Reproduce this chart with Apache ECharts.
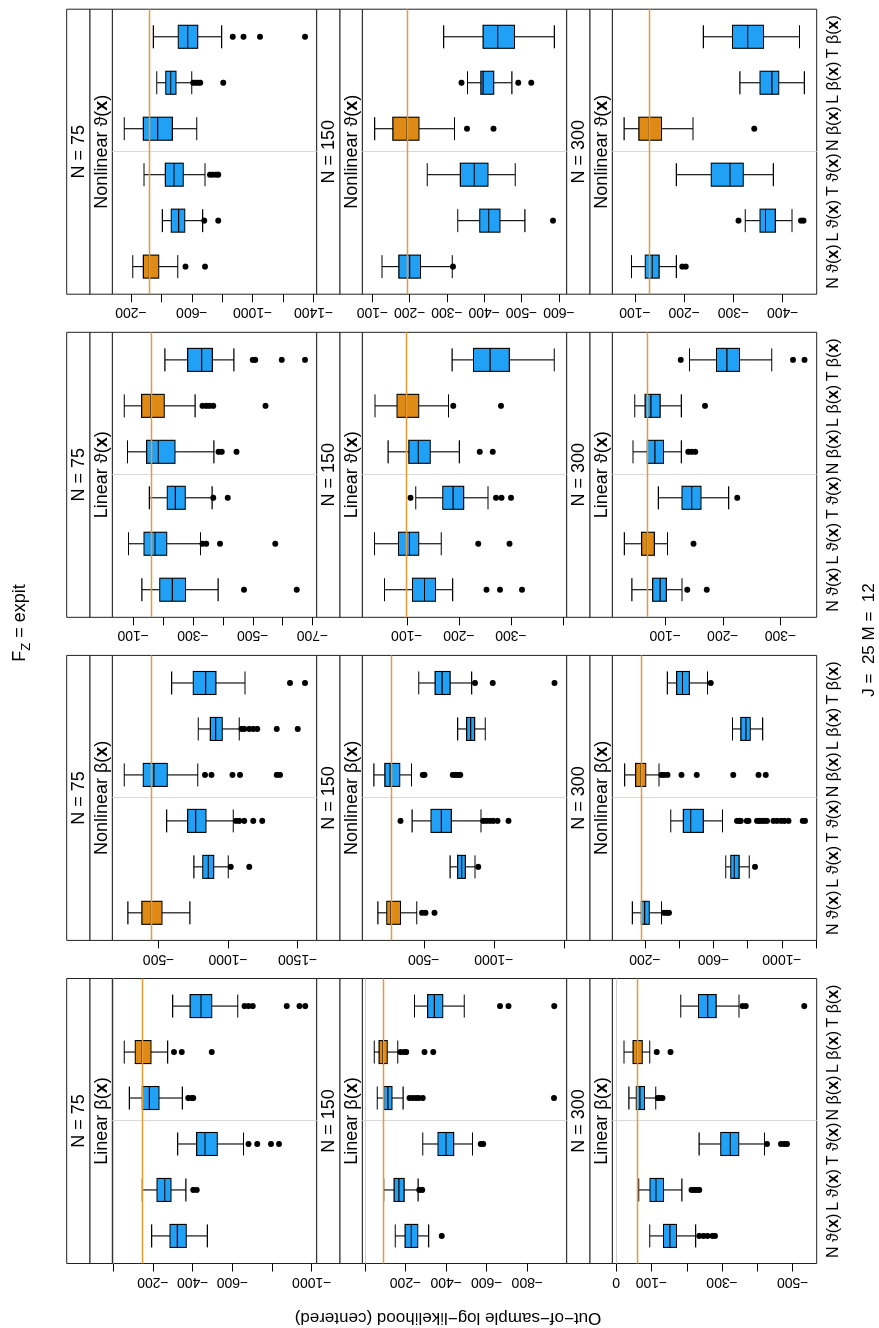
<!DOCTYPE html>
<html>
<head>
<meta charset="utf-8">
<script src="https://cdn.jsdelivr.net/npm/echarts@6.0.0/dist/echarts.min.js"></script>
<style>
  html, body { margin: 0; padding: 0; background: #fff; overflow: hidden; }
  /* the figure is drawn landscape and turned a quarter turn, like the reference */
  #chart { position: absolute; left: 0; top: 0; width: 1328px; height: 879px;
           transform-origin: 0 0; transform: translate(0, 1328px) rotate(-90deg); }
</style>
</head>
<body>
<div id="chart"></div>
<script>
// ---- data ----
// categories along each panel: N/L/T model of theta(x) then of beta(x)
const catPrefix = ['N ϑ', 'L ϑ', 'T ϑ', 'N β', 'L β', 'T β'];
const sampleSizes = ['N = 75', 'N = 150', 'N = 300'];
const modelNames = ['Linear β', 'Nonlinear β', 'Linear ϑ', 'Nonlinear ϑ'];

// boxes: [min, Q1, median, Q3, max] in category order
// outliers: [category (1..6), value]
const linBeta75Box = [[-474,-368,-323,-286,-193],[-366,-291,-259,-220,-146],[-656,-524,-462,-420,-324],[-348,-230,-182,-146,-81],[-274,-190,-145,-111,-55],[-627,-496,-442,-387,-299]];
const linBeta75Out = [[2,-403],[2,-420],[3,-681],[3,-726],[3,-795],[3,-835],[4,-378],[4,-395],[4,-403],[5,-306],[5,-345],[5,-496],[6,-661],[6,-681],[6,-703],[6,-874],[6,-938],[6,-967]];

const nonBeta75Box = [[-725,-524,-447,-380,-279],[-1001,-896,-857,-817,-754],[-1037,-841,-766,-709,-558],[-781,-562,-466,-390,-253],[-1080,-958,-910,-872,-785],[-1121,-912,-838,-749,-594]];
const nonBeta75Out = [[2,-1018],[2,-1152],[3,-1056],[3,-1080],[3,-1116],[3,-1181],[3,-1246],[4,-833],[4,-881],[4,-1032],[4,-1085],[4,-1349],[4,-1373],[5,-1097],[5,-1116],[5,-1152],[5,-1181],[5,-1210],[5,-1349],[5,-1500],[6,-1445],[6,-1553]];

const linTheta75Box = [[-384,-275,-231,-189,-129],[-325,-212,-173,-136,-84],[-364,-274,-241,-214,-154],[-370,-240,-184,-145,-81],[-307,-204,-159,-128,-70],[-437,-365,-329,-282,-206]];
const linTheta75Out = [[1,-471],[1,-647],[2,-332],[2,-344],[2,-390],[2,-575],[3,-368],[3,-416],[4,-385],[4,-396],[4,-446],[5,-332],[5,-344],[5,-355],[5,-368],[5,-543],[6,-500],[6,-508],[6,-597],[6,-675]];

const nonTheta75Box = [[-507,-382,-321,-281,-211],[-671,-553,-513,-465,-406],[-687,-544,-483,-426,-285],[-632,-472,-375,-281,-156],[-599,-496,-461,-428,-369],[-796,-638,-573,-511,-347]];
const nonTheta75Out = [[1,-559],[1,-687],[2,-682],[2,-774],[3,-719],[3,-737],[3,-759],[3,-774],[5,-610],[5,-625],[5,-640],[5,-655],[5,-807],[6,-869],[6,-939],[6,-1048],[6,-1344]];

const linBeta150Box = [[-314,-260,-228,-198,-149],[-262,-193,-167,-144,-93],[-530,-437,-399,-360,-285],[-188,-133,-113,-93,-61],[-162,-110,-88,-70,-46],[-489,-383,-342,-309,-244]];
const linBeta150Out = [[1,-378],[2,-268],[2,-282],[3,-571],[3,-583],[4,-219],[4,-236],[4,-252],[4,-265],[4,-285],[4,-931],[5,-175],[5,-192],[5,-203],[5,-293],[5,-337],[6,-665],[6,-707],[6,-933]];

const nonBeta150Box = [[-450,-334,-265,-236,-172],[-866,-797,-771,-742,-688],[-909,-697,-626,-552,-417],[-412,-329,-260,-222,-144],[-939,-863,-835,-806,-742],[-842,-688,-631,-581,-464]];
const nonBeta150Out = [[1,-488],[1,-512],[1,-576],[2,-890],[3,-334],[3,-925],[3,-949],[3,-973],[3,-996],[3,-1027],[3,-1106],[4,-493],[4,-505],[4,-707],[4,-726],[4,-745],[4,-761],[6,-866],[6,-992],[6,-1433]];

const linTheta150Box = [[-188,-155,-134,-111,-57],[-166,-123,-105,-84,-38],[-256,-209,-189,-169,-117],[-201,-145,-122,-104,-64],[-180,-123,-99,-81,-39],[-383,-297,-260,-228,-187]];
const linTheta150Out = [[1,-253],[1,-279],[1,-321],[2,-237],[2,-297],[3,-107],[3,-271],[3,-282],[3,-300],[4,-240],[4,-265],[5,-189],[5,-281]];

const nonTheta150Box = [[-314,-229,-200,-171,-126],[-509,-442,-412,-388,-329],[-483,-410,-373,-336,-247],[-320,-225,-193,-155,-106],[-474,-425,-397,-391,-355],[-588,-481,-436,-397,-291]];
const nonTheta150Out = [[1,-316],[2,-584],[4,-354],[4,-425],[5,-339],[5,-491],[5,-526]];

const linBeta300Box = [[-225,-171,-152,-134,-95],[-186,-134,-113,-96,-64],[-420,-347,-323,-296,-235],[-112,-80,-67,-57,-36],[-95,-74,-60,-48,-22],[-348,-283,-259,-233,-183]];
const linBeta300Out = [[1,-235],[1,-247],[1,-259],[1,-273],[1,-280],[2,-213],[2,-221],[2,-228],[2,-235],[3,-427],[3,-467],[3,-476],[3,-484],[4,-118],[4,-124],[4,-131],[5,-115],[5,-154],[6,-358],[6,-367],[6,-533]];

const nonBeta300Box = [[-296,-225,-198,-179,-126],[-809,-750,-721,-701,-672],[-653,-541,-467,-424,-350],[-282,-204,-177,-145,-81],[-887,-815,-789,-760,-711],[-565,-459,-419,-385,-331]];
const nonBeta300Out = [[1,-311],[1,-327],[1,-340],[2,-842],[3,-737],[3,-750],[3,-760],[3,-795],[3,-805],[3,-854],[3,-868],[3,-881],[3,-897],[3,-912],[3,-951],[3,-971],[3,-994],[3,-1014],[3,-1039],[3,-1121],[3,-1135],[4,-296],[4,-311],[4,-331],[4,-413],[4,-502],[4,-715],[4,-863],[4,-906],[6,-584]];

const linTheta300Box = [[-129,-102,-91,-78,-42],[-104,-81,-69,-59,-29],[-210,-162,-146,-129,-88],[-128,-97,-82,-69,-44],[-128,-91,-75,-65,-47],[-285,-229,-207,-189,-142]];
const linTheta300Out = [[1,-138],[1,-172],[2,-149],[3,-225],[4,-140],[4,-146],[4,-152],[5,-169],[6,-127],[6,-322],[6,-342]];

const nonTheta300Box = [[-184,-149,-135,-121,-93],[-419,-385,-365,-354,-324],[-381,-320,-293,-255,-184],[-218,-154,-129,-108,-78],[-444,-392,-378,-354,-313],[-434,-361,-329,-298,-239]];
const nonTheta300Out = [[1,-196],[1,-203],[2,-310],[2,-437],[2,-442],[4,-342]];

// highlighted (best) model per panel, rows N=75,150,300 x columns
const bestIdx = [[4, 0, 4, 0], [4, 0, 4, 3], [4, 3, 1, 3]];

// value axis ranges, ticks and labelled ticks per panel
const axisRange = [
  [[-1025, 5], [-1637, -167], [-714, -30], [-1421, -77]],
  [[-994, 13], [-1521, -61], [-407, -14.5], [-621, -73]],
  [[-568, 11], [-1203, -9], [-363, -8], [-469, -54]]
];
const axisTicks = [
  [[0,-200,-400,-600,-800,-1000], [-500,-1000,-1500], [-100,-200,-300,-400,-500,-600,-700], [-200,-400,-600,-800,-1000,-1200,-1400]],
  [[0,-200,-400,-600,-800], [-500,-1000,-1500], [-100,-200,-300,-400], [-100,-200,-300,-400,-500,-600]],
  [[0,-100,-200,-300,-400,-500], [-200,-400,-600,-800,-1000,-1200], [-100,-200,-300], [-100,-200,-300,-400]]
];
const axisLabels = [
  [[-200,-400,-600,-1000], [-500,-1000,-1500], [-100,-300,-500,-700], [-200,-600,-1000,-1400]],
  [[-200,-400,-600,-800], [-500,-1000], [-100,-200,-300], [-100,-200,-300,-400,-500,-600]],
  [[0,-100,-300,-500], [-200,-600,-1000], [-100,-200,-300], [-100,-200,-300,-400]]
];

const boxData = [
  [linBeta75Box, nonBeta75Box, linTheta75Box, nonTheta75Box],
  [linBeta150Box, nonBeta150Box, linTheta150Box, nonTheta150Box],
  [linBeta300Box, nonBeta300Box, linTheta300Box, nonTheta300Box]
];
const outData = [
  [linBeta75Out, nonBeta75Out, linTheta75Out, nonTheta75Out],
  [linBeta150Out, nonBeta150Out, linTheta150Out, nonTheta150Out],
  [linBeta300Out, nonBeta300Out, linTheta300Out, nonTheta300Out]
];

// ---- layout / style ----
const FONT = '"Liberation Sans", Arial, Helvetica, sans-serif';
const BLUE = '#21A1F6', ORANGE = '#DE8A14', REFLINE = '#E69A35';
const PANEL_LEFT = 64.5, COL_STEP = 323.1, PANEL_W = 285;
const STRIP1_TOP = 66.7, STRIP1_H = 23.3, STRIP2_H = 22.3;
const PLOT_TOP = 112.3, PLOT_H = 204.4, ROW_STEP = 250;

const fmt = v => (v < 0 ? '−' + Math.abs(v) : String(v));

const option = {
  animation: false,
  backgroundColor: '#ffffff',
  textStyle: { fontFamily: FONT },
  grid: [], xAxis: [], yAxis: [], series: [], graphic: []
};

let k = 0;
for (let r = 0; r < 3; r++) {
  for (let c = 0; c < 4; c++) {
    const left = PANEL_LEFT + c * COL_STEP;
    const top = PLOT_TOP + r * ROW_STEP;
    const best = bestIdx[r][c];
    const box = boxData[r][c];
    const ref = box[best][2];

    option.grid.push({ left: left, top: top, width: PANEL_W, height: PLOT_H,
      show: true, borderColor: '#222', borderWidth: 1 });

    option.xAxis.push({
      gridIndex: k, type: 'value', min: 0.4, max: 6.6,
      axisLine: { show: false }, axisTick: { show: false }, splitLine: { show: false },
      axisLabel: r === 2 ? {
        show: true, customValues: [1, 2, 3, 4, 5, 6], margin: 9,
        color: '#000', fontSize: 16, fontFamily: FONT,
        formatter: v => catPrefix[Math.round(v) - 1] + '({b|x})',
        rich: { b: { fontWeight: 'bold', fontSize: 16, fontFamily: FONT, color: '#000' } }
      } : { show: false }
    });

    option.yAxis.push({
      gridIndex: k, type: 'value', min: axisRange[r][c][0], max: axisRange[r][c][1],
      axisLine: { show: false }, splitLine: { show: false },
      axisTick: { show: true, length: 8, customValues: axisTicks[r][c], lineStyle: { color: '#000', width: 1 } },
      axisLabel: { show: true, rotate: 90, margin: 11, customValues: axisLabels[r][c],
        formatter: fmt, fontSize: 14, color: '#000', fontFamily: FONT }
    });

    const lines = [
      { xAxis: 3.5, lineStyle: { color: '#d9d9d9', width: 1, type: 'solid' } },
      { yAxis: ref, lineStyle: { color: REFLINE, width: 1.4, type: 'solid' } }
    ];
    if (c === 0) lines.push({ yAxis: 0, lineStyle: { color: '#cfcfcf', width: 1, type: 'solid' } });

    option.series.push({
      type: 'line', xAxisIndex: k, yAxisIndex: k, data: [], silent: true, z: 1,
      markLine: { silent: true, symbol: 'none', label: { show: false }, animation: false, data: lines }
    });
    option.series.push({
      type: 'boxplot', xAxisIndex: k, yAxisIndex: k, boxWidth: [23, 23], silent: true, z: 3,
      itemStyle: { borderColor: '#000', borderWidth: 1.1 },
      data: box.map((b, i) => ({ value: [i + 1].concat(b),
        itemStyle: { color: i === best ? ORANGE : BLUE, borderColor: '#000', borderWidth: 1.1 } }))
    });
    option.series.push({
      type: 'scatter', xAxisIndex: k, yAxisIndex: k, symbolSize: 6, silent: true, z: 4,
      itemStyle: { color: '#000', opacity: 1 }, data: outData[r][c]
    });

    // strips
    const s1 = STRIP1_TOP + r * ROW_STEP, s2 = s1 + STRIP1_H;
    option.graphic.push(
      { type: 'rect', shape: { x: left, y: s1, width: PANEL_W, height: STRIP1_H },
        style: { fill: '#fff', stroke: '#222', lineWidth: 1 } },
      { type: 'rect', shape: { x: left, y: s2, width: PANEL_W, height: STRIP2_H },
        style: { fill: '#fff', stroke: '#222', lineWidth: 1 } },
      { type: 'text', x: left + PANEL_W / 2, y: s1 + STRIP1_H / 2 + 1,
        style: { text: sampleSizes[r], fontSize: 18, fontFamily: FONT, fill: '#000', align: 'center', verticalAlign: 'middle' } },
      { type: 'text', x: left + PANEL_W / 2, y: s2 + STRIP2_H / 2 + 1,
        style: { text: modelNames[c] + '({b|x})', fontSize: 18, fontFamily: FONT, fill: '#000', align: 'center', verticalAlign: 'middle',
          rich: { b: { fontWeight: 'bold', fontSize: 18, fontFamily: FONT, fill: '#000' } } } }
    );
    k++;
  }
}

// title F_Z = expit, with the subscript placed by measured widths
const mctx = document.createElement('canvas').getContext('2d');
const measure = (t, size) => { mctx.font = size + 'px ' + FONT; return mctx.measureText(t).width; };
const tF = 'F', tZ = 'Z', tRest = ' = expit';
const wF = measure(tF, 18), wZ = measure(tZ, 13), wRest = measure(tRest, 18);
const tx0 = 705 - (wF + wZ + wRest) / 2, ty = 20;
option.graphic.push(
  { type: 'text', x: tx0, y: ty, style: { text: tF, fontSize: 18, fontFamily: FONT, fill: '#000', align: 'left', verticalAlign: 'middle' } },
  { type: 'text', x: tx0 + wF, y: ty + 6, style: { text: tZ, fontSize: 13, fontFamily: FONT, fill: '#000', align: 'left', verticalAlign: 'middle' } },
  { type: 'text', x: tx0 + wF + wZ, y: ty, style: { text: tRest, fontSize: 18, fontFamily: FONT, fill: '#000', align: 'left', verticalAlign: 'middle' } },
  { type: 'text', x: 688, y: 869, style: { text: 'J =  25 M =  12', fontSize: 17, fontFamily: FONT, fill: '#000', align: 'center', verticalAlign: 'middle' } },
  { type: 'text', x: 10, y: 448, rotation: Math.PI / 2,
    style: { text: 'Out−of−sample log−likelihood (centered)', fontSize: 17, fontFamily: FONT, fill: '#000', align: 'center', verticalAlign: 'middle' } }
);

const chart = echarts.init(document.getElementById('chart'), null, { renderer: 'canvas' });
chart.setOption(option);
</script>
</body>
</html>
